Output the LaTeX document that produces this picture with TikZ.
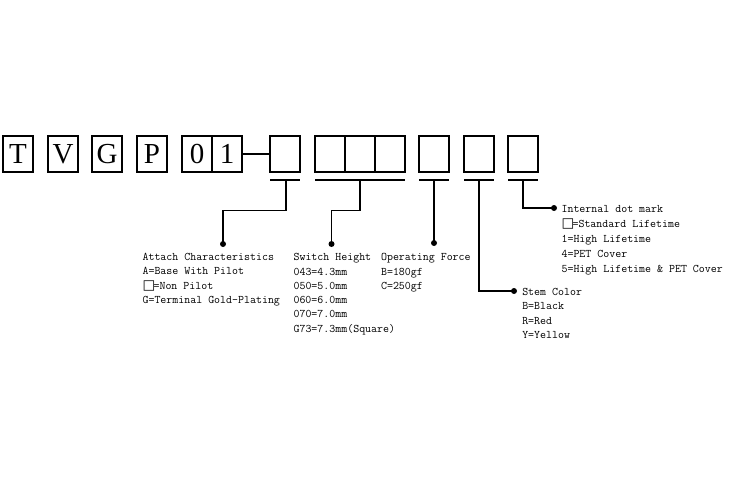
\documentclass[tikz,border=0pt]{standalone}
\usepackage{fontspec}
\newfontfamily\bigf{Liberation Serif}
\newfontfamily\symf{DejaVu Sans}
\newcommand{\sqbox}{\makebox[11pt][l]{\symf\fontsize{13.5}{13.5}\selectfont □}}
\begin{document}
\begin{tikzpicture}[x=1pt,y=-1pt,line width=1.1pt,
  cell/.style={draw,minimum width=30pt,minimum height=36pt,inner sep=0pt,
    font=\bigf\fontsize{29}{29}\selectfont},
  dotn/.style={circle,fill,inner sep=0pt,minimum size=6pt},
  txt/.style={anchor=base west,inner sep=0pt,font=\ttfamily\fontsize{11.6}{12}\selectfont\addfontfeatures{FakeBold=0.6}},
  conn/.style={draw,line width=1.1pt}]
\useasboundingbox (0,0) rectangle (730,500);
% code cells
\node[cell] (cT) at (18,154) {T};
\node[cell] (cV) at (63,154) {V};
\node[cell] (cG) at (107,154) {G};
\node[cell] (cP) at (152,154) {P};
\node[cell] (c0) at (197,154) {0};
\node[cell] (c1) at (227,154) {1};
\node[cell] (b1) at (285,154) {};
\node[cell] (b2) at (330,154) {};
\node[cell] (b3) at (360,154) {};
\node[cell] (b4) at (390,154) {};
\node[cell] (b5) at (434,154) {};
\node[cell] (b6) at (479,154) {};
\node[cell] (b7) at (523,154) {};
\draw[conn] (c1.east) -- (b1.west);
% underlines
\coordinate (u1l) at (270,180); \coordinate (u1r) at (300,180);
\coordinate (u2l) at (315,180); \coordinate (u2r) at (405,180);
\coordinate (u3l) at (419,180); \coordinate (u3r) at (449,180);
\coordinate (u4l) at (464,180); \coordinate (u4r) at (494,180);
\coordinate (u5l) at (508,180); \coordinate (u5r) at (538,180);
\draw[conn] (u1l) -- (u1r);
\draw[conn] (u2l) -- (u2r);
\draw[conn] (u3l) -- (u3r);
\draw[conn] (u4l) -- (u4r);
\draw[conn] (u5l) -- (u5r);
\coordinate (m1) at (286,180);
\coordinate (m2) at (360,180);
\coordinate (m3) at (434,180);
\coordinate (m4) at (479,180);
\coordinate (m5) at (523,180);
% dots
\node[dotn] (d1) at (223,244) {};
\node[dotn] (d2) at (331.5,244) {};
\node[dotn] (d3) at (434,243) {};
\node[dotn] (d4) at (514,291) {};
\node[dotn] (d5) at (554,208) {};
% connectors
\draw[conn] (m1) |- (254,210.7) -| (d1.center);
\draw[conn] (m2) |- (345,210.7) -| (d2.center);
\draw[conn] (m3) -- (d3.center);
\draw[conn] (m4) |- (d4.center);
\draw[conn] (m5) |- (d5.center);
% texts
\foreach \s [count=\i from 0] in {Attach Characteristics, A=Base With Pilot, \sqbox=Non Pilot, G=Terminal Gold-Plating}
  \node[txt] (ta\i) at (142,260.5+14.4*\i) {\s};
\foreach \s [count=\i from 0] in {Switch Height, 043=4.3mm, 050=5.0mm, 060=6.0mm, 070=7.0mm, G73=7.3mm(Square)}
  \node[txt] (ts\i) at (293,260.7+14.3*\i) {\s};
\foreach \s [count=\i from 0] in {Operating Force, B=180gf, C=250gf}
  \node[txt] (to\i) at (380.5,260.7+14.3*\i) {\s};
\foreach \s [count=\i from 0] in {Stem Color, B=Black, R=Red, Y=Yellow}
  \node[txt] (tc\i) at (521.7,295.5+14.3*\i) {\s};
\foreach \s [count=\i from 0] in {Internal dot mark, \sqbox=Standard Lifetime, 1=High Lifetime, 4=PET Cover, 5=High Lifetime \& PET Cover}
  \node[txt] (ti\i) at (561,212+15*\i) {\s};
\end{tikzpicture}
\end{document}
